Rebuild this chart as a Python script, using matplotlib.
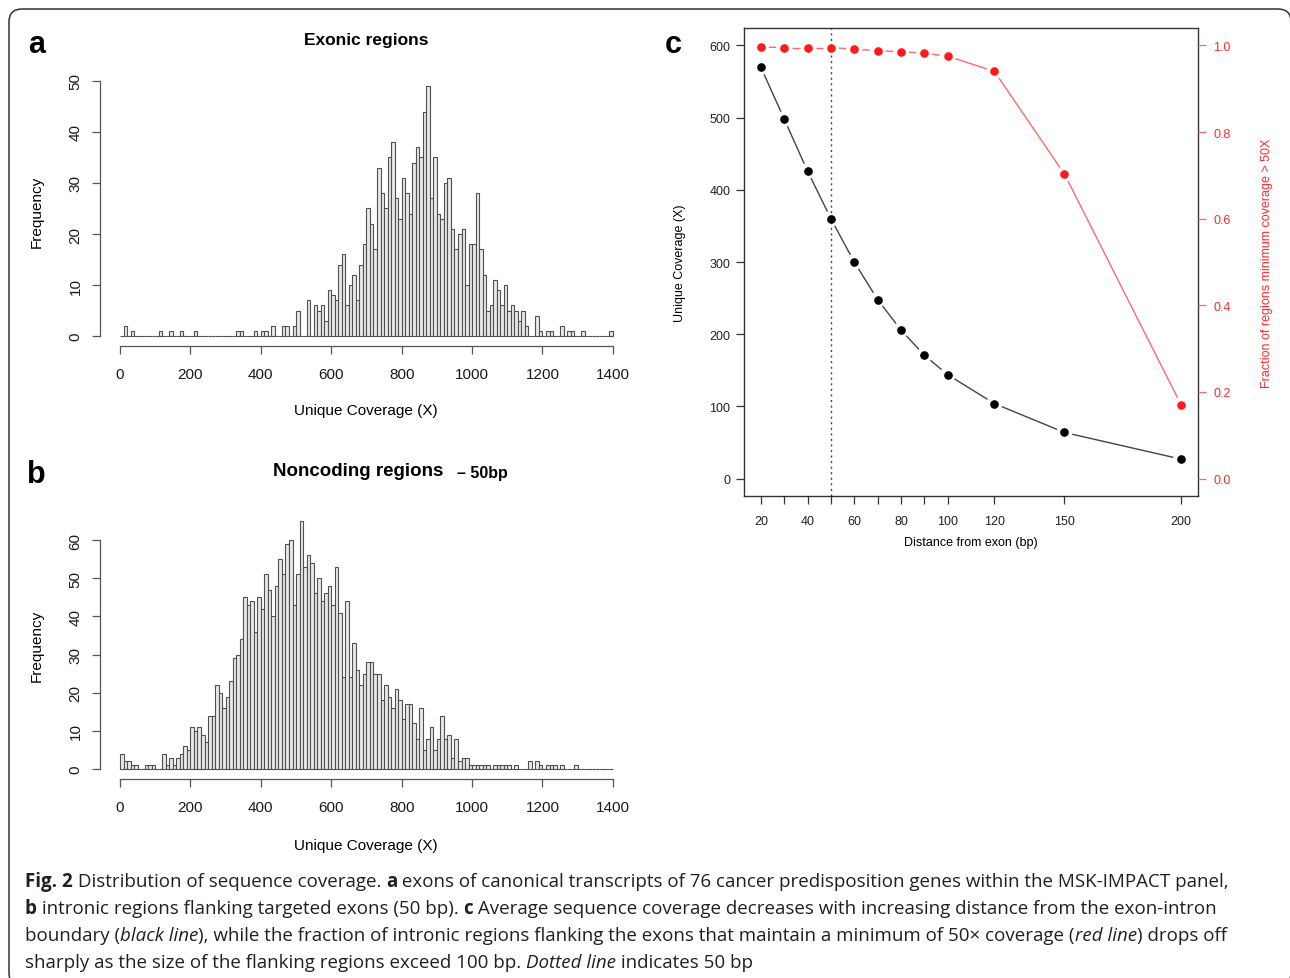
import numpy as np
import matplotlib as mpl
mpl.use("Agg")
import matplotlib.pyplot as plt
from matplotlib.patches import FancyBboxPatch

plt.rcParams['font.family'] = ['Liberation Sans', 'DejaVu Sans']

W, H = 1290, 979

# ---- data ----
bin_width = 10
hist_xticks = [0, 200, 400, 600, 800, 1000, 1200, 1400]

# counts per 10X bin, 0..1400
exonic_counts = [
    0, 2, 0, 1, 0, 0, 0, 0, 0, 0, 0, 1, 0, 0, 1, 0, 0, 1, 0, 0,
    0, 1, 0, 0, 0, 0, 0, 0, 0, 0, 0, 0, 0, 1, 1, 0, 0, 0, 1, 0,
    1, 1, 0, 2, 0, 0, 2, 2, 0, 2, 5, 0, 0, 7, 0, 6, 5, 6, 3, 9,
    8, 7, 14, 16, 6, 10, 12, 7, 14, 18, 25, 22, 17, 33, 28, 25, 35, 38, 27, 23,
    31, 28, 24, 34, 37, 35, 44, 49, 27, 35, 24, 23, 30, 31, 21, 17, 20, 21, 10, 18,
    18, 28, 17, 12, 5, 6, 11, 9, 6, 10, 5, 6, 5, 3, 5, 2, 0, 0, 4, 1,
    0, 1, 1, 0, 0, 2, 0, 1, 1, 0, 0, 1, 0, 0, 0, 0, 0, 0, 0, 1,
]
exonic_yticks = [0, 10, 20, 30, 40, 50]

noncoding_counts = [
    4, 2, 2, 1, 1, 0, 0, 1, 1, 1, 0, 0, 4, 1, 3, 1, 3, 4, 6, 5,
    11, 10, 11, 9, 7, 14, 14, 22, 20, 16, 19, 23, 29, 30, 34, 45, 43, 44, 36, 45,
    42, 51, 47, 40, 48, 55, 51, 59, 60, 43, 51, 65, 53, 56, 54, 46, 50, 44, 46, 48,
    43, 53, 41, 24, 44, 24, 33, 26, 22, 25, 28, 28, 25, 25, 18, 22, 19, 16, 21, 18,
    13, 17, 17, 12, 8, 16, 5, 8, 11, 5, 8, 14, 8, 9, 3, 8, 2, 3, 3, 1,
    1, 1, 1, 1, 1, 0, 1, 1, 1, 1, 1, 0, 1, 0, 0, 0, 2, 0, 2, 1,
    0, 1, 1, 1, 0, 1, 0, 0, 0, 1, 0, 0, 0, 0, 0, 0, 0, 0, 0, 0,
]
noncoding_yticks = [0, 10, 20, 30, 40, 50, 60]

distance = [20, 30, 40, 50, 60, 70, 80, 90, 100, 120, 150, 200]
coverage = [570, 498, 426, 360, 300, 248, 206, 171, 144, 104, 64, 27]
fraction = [0.996, 0.995, 0.995, 0.995, 0.991, 0.988, 0.985, 0.982, 0.975, 0.940, 0.703, 0.170]
dist_labels = ["20", "", "40", "", "60", "", "80", "", "100", "120", "150", "200"]
cov_ticks = [0, 100, 200, 300, 400, 500, 600]
frac_ticks = [0.0, 0.2, 0.4, 0.6, 0.8, 1.0]

caption = [
    [("Fig. 2", "bold", "normal"), (" Distribution of sequence coverage. ", "normal", "normal"),
     ("a", "bold", "normal"),
     (" exons of canonical transcripts of 76 cancer predisposition genes within the MSK-IMPACT panel,", "normal", "normal")],
    [("b", "bold", "normal"), (" intronic regions flanking targeted exons (50 bp). ", "normal", "normal"),
     ("c", "bold", "normal"),
     (" Average sequence coverage decreases with increasing distance from the exon-intron", "normal", "normal")],
    [("boundary (", "normal", "normal"), ("black line", "normal", "italic"),
     ("), while the fraction of intronic regions flanking the exons that maintain a minimum of 50\u00d7 coverage (", "normal", "normal"),
     ("red line", "normal", "italic"), (") drops off", "normal", "normal")],
    [("sharply as the size of the flanking regions exceed 100 bp. ", "normal", "normal"),
     ("Dotted line", "normal", "italic"), (" indicates 50 bp", "normal", "normal")],
]

fig = plt.figure(figsize=(W / 100, H / 100), dpi=100)


def add_axes_px(left, top, right, bottom):
    return fig.add_axes([left / W, 1 - bottom / H, (right - left) / W, (bottom - top) / H])


def ftext(x, y, s, **kw):
    return fig.text(x / W, 1 - y / H, s, **kw)


frame = FancyBboxPatch((0.09, -0.08), 12.82, 9.77,
                       boxstyle="round,pad=0,rounding_size=0.13",
                       transform=fig.dpi_scale_trans, facecolor='none',
                       edgecolor='#333333', linewidth=1.1)
fig.add_artist(frame)


def draw_hist(ax, counts, yticks):
    edges = np.arange(len(counts)) * bin_width
    ax.bar(edges, counts, width=bin_width, align='edge', facecolor='#e8e8e8',
           edgecolor='#505050', linewidth=0.8)
    ymax = max(counts)
    ax.set_xlim(-0.04 * 1400, 1.04 * 1400)
    ax.set_ylim(-0.04 * ymax, 1.04 * ymax)
    ax.spines['top'].set_visible(False)
    ax.spines['right'].set_visible(False)
    for s in ['left', 'bottom']:
        ax.spines[s].set_color('#555555')
        ax.spines[s].set_linewidth(0.9)
    ax.spines['left'].set_bounds(yticks[0], yticks[-1])
    ax.spines['bottom'].set_bounds(hist_xticks[0], hist_xticks[-1])
    ax.set_xticks(hist_xticks)
    ax.set_yticks(yticks)
    ax.tick_params(axis='both', length=5.8, width=0.9, color='#555555',
                   labelsize=11, labelcolor='#1a1a1a')
    ax.tick_params(axis='x', pad=9)
    ax.tick_params(axis='y', pad=7, labelrotation=90)
    for lab in ax.get_yticklabels():
        lab.set_va('center')
    ax.patch.set_alpha(0)


ax_a = add_axes_px(100.3, 77.1, 632.6, 347)
draw_hist(ax_a, exonic_counts, exonic_yticks)
ax_b = add_axes_px(100.3, 512, 632.6, 780)
draw_hist(ax_b, noncoding_counts, noncoding_yticks)

ftext(37, 212, "Frequency", rotation=90, ha='center', va='center', fontsize=11)
ftext(366, 411, "Unique Coverage (X)", ha='center', va='center', fontsize=11)
ftext(37, 646, "Frequency", rotation=90, ha='center', va='center', fontsize=11)
ftext(366, 846, "Unique Coverage (X)", ha='center', va='center', fontsize=11)
ftext(366, 40, "Exonic regions", ha='center', va='center', fontsize=12.5, fontweight='bold')
ftext(443, 472, "Noncoding regions", ha='right', va='center', fontsize=13.5, fontweight='bold')
ftext(457, 474, "\u2013 50bp", ha='left', va='center', fontsize=11.5, fontweight='bold')

ftext(28, 45, "a", ha='left', va='center', fontsize=22, fontweight='bold')
ftext(27, 475, "b", ha='left', va='center', fontsize=22, fontweight='bold')
ftext(665, 45, "c", ha='left', va='center', fontsize=22, fontweight='bold')

# ---- panel c ----
ax_c = add_axes_px(744, 29, 1198, 497)
ax_c.set_xlim(20 - 0.04 * 180, 200 + 0.04 * 180)
ax_c.set_ylim(-0.04 * 600, 1.04 * 600)
ax_r = ax_c.twinx()
ax_r.set_ylim(-0.04, 1.04)
for s in ax_c.spines.values():
    s.set_color('#333333')
    s.set_linewidth(1.0)
for s in ax_r.spines.values():
    s.set_visible(False)


def type_b(ax, xs, ys, color, mcolor, gap=8.0):
    pts = ax.transData.transform(np.column_stack([xs, ys]))
    inv = ax.transData.inverted()
    for p0, p1 in zip(pts[:-1], pts[1:]):
        d = p1 - p0
        L = np.hypot(*d)
        if L <= 2 * gap:
            continue
        u = d / L
        seg = inv.transform(np.array([p0 + u * gap, p1 - u * gap]))
        ax.plot(seg[:, 0], seg[:, 1], color=color, lw=1.0, solid_capstyle='butt')
    ax.plot(xs, ys, ls='none', marker='o', ms=5.2, color=mcolor, mec=mcolor)


ax_c.axvline(50, color='#444444', lw=1.0, ls=(0, (1.5, 2.5)))
type_b(ax_c, distance, coverage, '#444444', '#000000')
type_b(ax_r, distance, fraction, '#ff6a6a', '#ff1a1a')

ax_c.set_xticks(distance)
ax_c.set_xticklabels(dist_labels)
ax_c.set_yticks(cov_ticks)
ax_c.tick_params(axis='both', length=5.8, width=0.9, color='#333333', labelsize=9,
                 labelcolor='#222222')
ax_c.tick_params(axis='x', pad=8)
ax_c.tick_params(axis='y', pad=4)
ax_r.set_yticks(frac_ticks)
ax_r.set_yticklabels([f"{v:.1f}" for v in frac_ticks])
ax_r.tick_params(axis='y', length=5.8, width=0.9, color='#ff6666', labelsize=9,
                 labelcolor='#ff2a2a', pad=5)

ftext(971, 543, "Distance from exon (bp)", ha='center', va='center', fontsize=9)
ftext(680, 263, "Unique Coverage (X)", rotation=90, ha='center', va='center', fontsize=9)
ftext(1267, 263, "Fraction of regions minimum coverage > 50X", rotation=90,
      ha='center', va='center', fontsize=9, color='#ff2a2a')

# ---- caption ----
cap_font = ['Open Sans', 'DejaVu Sans']
renderer = fig.canvas.get_renderer()


def run_width(text, size, weight, style):
    t1 = fig.text(0, 0, "|" + text + "|", fontsize=size, fontweight=weight,
                  fontstyle=style, family=cap_font)
    t2 = fig.text(0, 0, "||", fontsize=size, fontweight=weight,
                  fontstyle=style, family=cap_font)
    w = t1.get_window_extent(renderer).width - t2.get_window_extent(renderer).width
    t1.remove()
    t2.remove()
    return w


base = 12.0
w1 = sum(run_width(t, base, wt, st) for t, wt, st in caption[0])
cap_size = base * 1196.0 / w1

baselines = [887, 914, 941, 968]
for line, yb in zip(caption, baselines):
    x = 25.0
    for text, wt, st in line:
        ftext(x, yb, text, ha='left', va='baseline', fontsize=cap_size,
              fontweight=wt, fontstyle=st, family=cap_font, color='#231f20')
        x += run_width(text, cap_size, wt, st)

fig.savefig("out.png", dpi=100)
